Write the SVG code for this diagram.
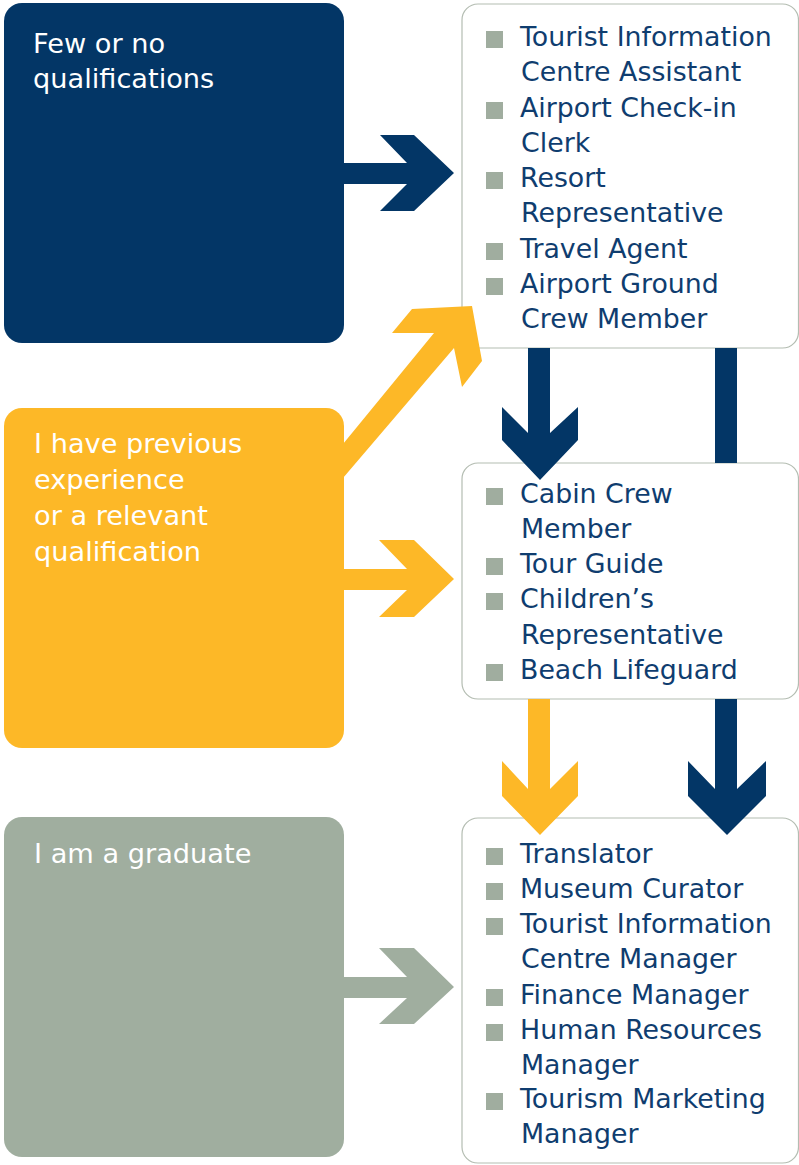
<svg xmlns="http://www.w3.org/2000/svg" width="799" height="1165" viewBox="0 0 799 1165">
<style>
.title{font-family:"DejaVu Sans","Liberation Sans",sans-serif;font-size:27.2px;fill:#ffffff;}
.item{font-family:"DejaVu Sans","Liberation Sans",sans-serif;font-size:26.8px;fill:#0f3d6f;}
.list{fill:#ffffff;stroke:#b4bdb2;stroke-width:1.2;}
.bul{fill:#a0ad9f;}
.navy{fill:#033666;}
.yel{fill:#fdb827;}
.gry{fill:#a0ae9f;}
</style>
<rect width="799" height="1165" fill="#ffffff"/>
<g id="few">
<rect class="navy" x="4" y="3" width="340" height="340" rx="18"/>
<text class="title" x="33" y="53">Few or no</text>
<text class="title" x="33" y="88">qualifications</text>
</g>
<g id="experience">
<rect class="yel" x="4" y="408" width="340" height="340" rx="18"/>
<text class="title" x="34" y="453">I have previous</text>
<text class="title" x="34" y="489">experience</text>
<text class="title" x="34" y="525">or a relevant</text>
<text class="title" x="34" y="561">qualification</text>
</g>
<g id="graduate">
<rect class="gry" x="4" y="817" width="340" height="340" rx="18"/>
<text class="title" x="34" y="863">I am a graduate</text>
</g>
<g id="list1">
<rect class="list" x="462" y="4" width="336.5" height="344" rx="16"/>
<rect class="bul" x="486" y="31" width="17" height="17"/>
<text class="item" x="520" y="46">Tourist Information</text>
<text class="item" x="521" y="81">Centre Assistant</text>
<rect class="bul" x="486" y="102" width="17" height="17"/>
<text class="item" x="520" y="117">Airport Check-in</text>
<text class="item" x="521" y="152">Clerk</text>
<rect class="bul" x="486" y="172" width="17" height="17"/>
<text class="item" x="520" y="187">Resort</text>
<text class="item" x="521" y="222">Representative</text>
<rect class="bul" x="486" y="243" width="17" height="17"/>
<text class="item" x="520" y="258">Travel Agent</text>
<rect class="bul" x="486" y="278" width="17" height="17"/>
<text class="item" x="520" y="293">Airport Ground</text>
<text class="item" x="521" y="328">Crew Member</text>
</g>
<g id="list2">
<rect class="list" x="462" y="463" width="336.5" height="236" rx="16"/>
<rect class="bul" x="486" y="488" width="17" height="17"/>
<text class="item" x="520" y="503">Cabin Crew</text>
<text class="item" x="521" y="538">Member</text>
<rect class="bul" x="486" y="558" width="17" height="17"/>
<text class="item" x="520" y="573">Tour Guide</text>
<rect class="bul" x="486" y="593" width="17" height="17"/>
<text class="item" x="520" y="608">Children’s</text>
<text class="item" x="521" y="644">Representative</text>
<rect class="bul" x="486" y="664" width="17" height="17"/>
<text class="item" x="520" y="679">Beach Lifeguard</text>
</g>
<g id="list3">
<rect class="list" x="462" y="818" width="336.5" height="345" rx="16"/>
<rect class="bul" x="486" y="848" width="17" height="17"/>
<text class="item" x="520" y="863">Translator</text>
<rect class="bul" x="486" y="883" width="17" height="17"/>
<text class="item" x="520" y="898">Museum Curator</text>
<rect class="bul" x="486" y="918" width="17" height="17"/>
<text class="item" x="520" y="933">Tourist Information</text>
<text class="item" x="521" y="968">Centre Manager</text>
<rect class="bul" x="486" y="989" width="17" height="17"/>
<text class="item" x="520" y="1004">Finance Manager</text>
<rect class="bul" x="486" y="1024" width="17" height="17"/>
<text class="item" x="520" y="1039">Human Resources</text>
<text class="item" x="521" y="1074">Manager</text>
<rect class="bul" x="486" y="1093" width="17" height="17"/>
<text class="item" x="520" y="1108">Tourism Marketing</text>
<text class="item" x="521" y="1143">Manager</text>
</g>
<g id="connectors">
<polygon class="navy" points="343,163 407,163 380,135 414,135 454,173 414,211 380,211 407,184 343,184"/>
<polygon class="yel" points="343,444 434,333 392,333 412,309 472,306 482,361 462,387 454,348 343,478"/>
<polygon class="yel" points="343,569 407,569 379,540 414,540 454,579 414,617 379,617 407,590 343,590"/>
<polygon class="gry" points="343,977 407,977 379,948 414,948 454,987 414,1024 379,1024 407,998 343,998"/>
<polygon class="navy" points="528,348 550,348 550,433 578,407 578,440 540,480 502,440 502,407 528,433"/>
<rect class="navy" x="715" y="348" width="22" height="115"/>
<polygon class="yel" points="528,699 550,699 550,789 578,761 578,796 540,835 502,796 502,761 528,789"/>
<polygon class="navy" points="715,699 737,699 737,789 766,761 766,796 727,835 688,796 688,761 715,789"/>
</g>
</svg>
